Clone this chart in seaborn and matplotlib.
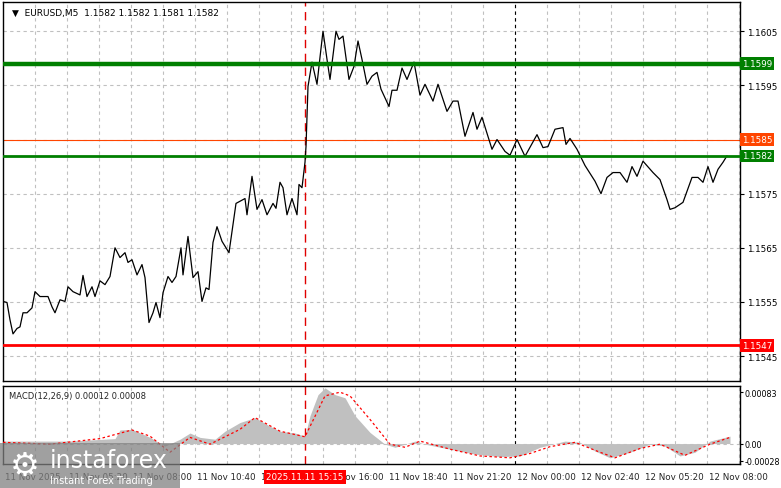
import matplotlib
matplotlib.use("Agg")
import matplotlib.pyplot as plt
import seaborn as sns
import pandas as pd
from matplotlib.patches import Rectangle

# time position (chart units, 2 per M5 bar) and close price
t_price = [3,7,10,13,17,20,23,27,32,35,40,48,52,55,60,65,68,73,80,83,87,92,95,100,105,110,115,120,125,128,132,137,142,145,149,153,156,160,163,168,172,176,181,183,188,193,198,202,206,209,213,217,222,229,236,245,247,252,257,262,267,273,276,280,283,287,292,297,299,302,305,306,308,312,317,320,323,327,330,336,339,343,349,354,358,362,367,372,377,381,389,392,397,402,407,414,420,425,433,438,447,453,458,465,473,477,482,492,497,505,510,517,525,537,543,548,555,563,566,570,577,585,595,601,607,613,620,627,632,637,643,653,660,667,670,675,683,692,698,703,708,713,718,723,727]
price = [1.15551,1.15549,1.15517,1.15491,1.15501,1.15504,1.15530,1.15530,1.15539,1.15569,1.15560,1.15560,1.15541,1.15530,1.15554,1.15551,1.15578,1.15569,1.15563,1.15599,1.15560,1.15578,1.15560,1.15589,1.15582,1.15597,1.15650,1.15632,1.15641,1.15623,1.15628,1.15600,1.15619,1.15595,1.15512,1.15530,1.15549,1.15521,1.15567,1.15597,1.15586,1.15597,1.15650,1.15600,1.15671,1.15595,1.15606,1.15551,1.15576,1.15573,1.15660,1.15689,1.15662,1.15641,1.15732,1.15741,1.15711,1.15782,1.15721,1.15739,1.15711,1.15732,1.15723,1.15771,1.15761,1.15711,1.15741,1.15711,1.15767,1.15761,1.15808,1.15837,1.15948,1.15993,1.15952,1.16002,1.16050,1.15998,1.15961,1.16050,1.16035,1.16041,1.15961,1.15985,1.16032,1.15998,1.15952,1.15967,1.15974,1.15943,1.15911,1.15941,1.15941,1.15982,1.15961,1.15993,1.15932,1.15952,1.15921,1.15952,1.15902,1.15921,1.15921,1.15856,1.15900,1.15869,1.15891,1.15832,1.15850,1.15828,1.15821,1.15850,1.15819,1.15859,1.15835,1.15837,1.15869,1.15872,1.15841,1.15852,1.15832,1.15802,1.15773,1.15750,1.15780,1.15789,1.15789,1.15771,1.15800,1.15782,1.15810,1.15789,1.15776,1.15739,1.15721,1.15724,1.15734,1.15780,1.15780,1.15771,1.15800,1.15771,1.15795,1.15808,1.15820]

t_hist = [3,70,115,120,132,150,165,180,190,200,215,225,240,255,270,280,295,305,310,318,325,335,345,355,370,385,395,415,425,450,475,500,520,540,565,580,595,610,630,650,665,680,695,710,730]
hist = [0.00004,0.00004,0.00008,0.00022,0.00023,0.0001,-0.00004,0.00007,0.00017,0.0001,0.00007,0.0002,0.00034,0.00042,0.00028,0.0002,0.00017,0.00012,0.00045,0.00079,0.0009,0.00079,0.00074,0.00045,0.00018,-0.00001,-0.00006,0.00004,-0.00001,-0.00009,-0.00017,-0.00021,-0.0002,-0.00006,0.00004,0.00002,-0.00012,-0.00023,-0.00014,-0.00001,-0.00004,-0.0002,-0.00014,0.00004,0.00012]
t_sig = [3,50,100,132,150,170,190,210,240,255,280,305,325,340,350,370,390,405,420,450,480,510,530,550,575,600,615,640,660,685,710,730]
signal = [0.00002,-0.00001,0.00008,0.00022,0.00012,-0.00014,0.0001,-0.00001,0.00023,0.00042,0.0002,0.00011,0.00077,0.00083,0.00077,0.00039,-0.00001,-0.00006,0.00004,-0.00009,-0.0002,-0.00023,-0.00016,-0.00005,0.00002,-0.00014,-0.00023,-0.00008,-0.00001,-0.00019,-0.00001,0.0001]

tick_pos = [3,67,131,195,259,323,387,451,515,579,643,707]
tick_labels = ["11 Nov 2025","11 Nov 05:20","11 Nov 08:00","11 Nov 10:40","11 Nov 13:20","11 Nov 16:00",
               "11 Nov 18:40","11 Nov 21:20","12 Nov 00:00","12 Nov 02:40","12 Nov 05:20","12 Nov 08:00"]
price_ticks = [1.1605,1.1595,1.1575,1.1565,1.1555,1.1545]
levels = [(1.1599,"#007f00",3.2),(1.1582,"#007f00",2.0),(1.1547,"#ff0000",2.0)]
ask = 1.1585

sns.set_style("white")
plt.rcParams['font.family'] = ['DejaVu Sans']
W, H = 781, 489
fig = plt.figure(figsize=(W/100, H/100), dpi=100)
ax = fig.add_axes([3/W, 1-382/H, 737/W, 379/H])
am = fig.add_axes([3/W, 1-465/H, 737/W, 78/H])

for a in (ax, am):
    a.set_xlim(3, 740)
    for s in a.spines.values():
        s.set_color("black"); s.set_linewidth(1)
    a.set_xticks([])
    for g in range(35, 740, 32):
        a.axvline(g, color="#c0c0c0", ls=(0,(3,3)), lw=0.8, zorder=0)
    a.axvline(515, color="black", ls=(0,(3,3)), lw=0.8, zorder=1)
    a.axvline(305, color="#e00000", ls=(0,(6,4)), lw=1, zorder=1)
    a.yaxis.tick_right()
    a.tick_params(axis="y", labelsize=6.3, length=3, pad=2, colors="black")
am.tick_params(axis="y", labelsize=5.8, length=2, pad=1)

ax.set_ylim(1.15404, 1.16104)
ax.set_yticks(price_ticks)
ax.set_yticklabels([f"{v:.4f}" for v in price_ticks])
for v in [1.1605,1.1595,1.1585,1.1575,1.1565,1.1555,1.1545]:
    ax.axhline(v, color="#c0c0c0", ls=(0,(3,3)), lw=0.8, zorder=0)
df = pd.DataFrame({"t": t_price, "p": price})
sns.lineplot(data=df, x="t", y="p", ax=ax, color="black", lw=0.9, zorder=3)
ax.set_xlabel(""); ax.set_ylabel("")
ax.axhline(ask, color="#ff4500", lw=0.8, zorder=2)
ax.text(1.003, ask, "1.1585", transform=ax.get_yaxis_transform(), fontsize=6.3, color="white", va="center",
        bbox=dict(boxstyle="square,pad=0.2", fc="#ff4500", ec="none"), clip_on=False)
for v, c, lw in levels:
    ax.axhline(v, color=c, lw=lw, zorder=4)
    ax.text(1.003, v, f"{v:.4f}", transform=ax.get_yaxis_transform(), fontsize=6.3, color="white", va="center",
            bbox=dict(boxstyle="square,pad=0.2", fc=c, ec="none"), clip_on=False)
ax.text(0.012, 0.985, "\u25BC  EURUSD,M5  1.1582 1.1582 1.1581 1.1582", transform=ax.transAxes,
        fontsize=6.5, va="top", color="black")

am.set_ylim(-0.00033, 0.00093)
am.set_yticks([0.00083, 0.0, -0.00028])
am.set_yticklabels(["0.00083", "0.00", "-0.00028"])
am.axhline(0, color="#c0c0c0", ls=(0,(3,3)), lw=0.8, zorder=0)
am.fill_between(t_hist, hist, 0, color="#c0c0c0", lw=0, zorder=2)
sns.lineplot(x=t_sig, y=signal, ax=am, color="red", lw=0.9, ls=(0,(2,2)), zorder=3)
am.text(0.008, 0.93, "MACD(12,26,9) 0.00012 0.00008", transform=am.transAxes, fontsize=6, va="top")

for p, lab in zip(tick_pos, tick_labels):
    fig.text((p+2)/W, 1-478/H, lab, fontsize=6.3, va="center", ha="left")
fig.text(305/W, 1-478/H, "2025.11.11 15:15", fontsize=6.3, va="center", ha="center", color="white", zorder=5,
         bbox=dict(boxstyle="square,pad=0.3", fc="#ff0000", ec="none"))

fig.patches.append(Rectangle((0, 0), 180/W, 45/H, transform=fig.transFigure, fc="#808080", alpha=0.75, ec="none", zorder=10))
fig.text(50/W, 1-461/H, "instaforex", fontsize=17, color="white", va="center", ha="left", zorder=11)
fig.text(50/W, 1-481/H, "Instant Forex Trading", fontsize=7, color="white", va="center", ha="left", zorder=11)
fig.text(25/W, 1-466/H, "\u2699", fontsize=24, color="white", va="center", ha="center", zorder=11)

fig.savefig("out.png", dpi=100)
